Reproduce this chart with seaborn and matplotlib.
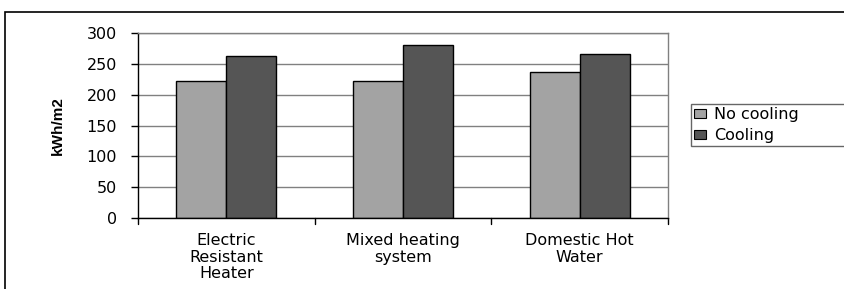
import matplotlib
matplotlib.use("Agg")
import matplotlib.pyplot as plt
import seaborn as sns
import pandas as pd
from matplotlib.patches import Rectangle

categories = ["Electric\nResistant\nHeater", "Mixed heating\nsystem", "Domestic Hot\nWater"]
series = ["No cooling", "Cooling"]
no_cooling = [222, 222, 237]
cooling = [262, 281, 266]
yticks = [0, 50, 100, 150, 200, 250, 300]

df = pd.DataFrame({
    "cat": categories * 2,
    "series": [series[0]] * 3 + [series[1]] * 3,
    "val": no_cooling + cooling,
})

sns.set_style("white")
plt.rcParams['font.family'] = ['DejaVu Sans']
plt.rcParams['text.color'] = 'black'
plt.rcParams['axes.labelcolor'] = 'black'
plt.rcParams['xtick.color'] = 'black'
plt.rcParams['ytick.color'] = 'black'

W, H = 845, 289
fig = plt.figure(figsize=(W / 100, H / 100), dpi=100)
ax = fig.add_axes([138 / W, 1 - 218 / H, (668 - 138) / W, (218 - 33) / H])

sns.barplot(data=df, x="cat", y="val", hue="series", hue_order=series,
            palette=["#A3A3A3", "#555555"], width=0.566, edgecolor="black",
            linewidth=1.0, ax=ax, saturation=1, legend=True)

ax.set_ylim(0, 300)
ax.set_xlim(-0.5, 2.5)
ax.set_yticks(yticks)
ax.set_yticklabels([str(v) for v in yticks], fontsize=11.5)
ax.yaxis.grid(True, color="#808080", linewidth=1.0)
ax.set_axisbelow(True)
ax.set_xlabel("")
ax.set_ylabel("kWh/m2", fontsize=11, fontweight="bold", family="Liberation Sans", labelpad=16)

ax.set_xticks([0, 1, 2])
ax.set_xticklabels(categories, fontsize=11.5, linespacing=1.12)
ax.tick_params(axis="x", length=0, pad=11)
ax.tick_params(axis="y", length=5, width=1, color="black", direction="out", pad=10, left=True)

for x in [-0.5, 0.5, 1.5, 2.5]:
    ax.plot([x, x], [0, -0.03], transform=ax.get_xaxis_transform(), color="black",
            linewidth=1, clip_on=False)

for s in ["top", "right"]:
    ax.spines[s].set_color("#808080")
    ax.spines[s].set_linewidth(1.0)
for s in ["left", "bottom"]:
    ax.spines[s].set_color("black")
    ax.spines[s].set_linewidth(1.0)

leg = ax.legend(loc="upper left", bbox_to_anchor=(691 / W, 1 - 147 / H, 170 / W, 43 / H),
                bbox_transform=fig.transFigure, mode="expand", frameon=True, fancybox=False,
                fontsize=11.5, handlelength=0.75, handleheight=0.45, handletextpad=0.5,
                borderpad=0.2, labelspacing=0.38, borderaxespad=0)
leg.get_frame().set_edgecolor("#404040")
leg.get_frame().set_linewidth(1.0)
for h in leg.legend_handles:
    h.set_edgecolor("black")
    h.set_linewidth(0.8)

fig.patches.append(Rectangle((5 / W, -0.1), 2, 1 - 12 / H + 0.1, transform=fig.transFigure,
                             fill=False, edgecolor="black", linewidth=1.2))

fig.savefig("out.png", dpi=100)
